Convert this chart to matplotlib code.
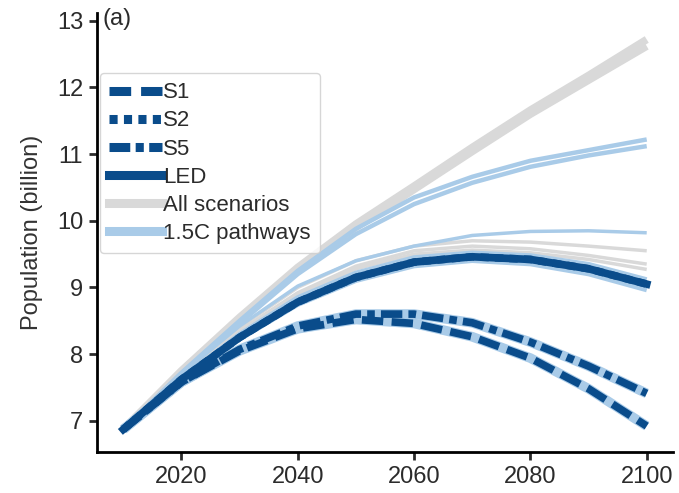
import matplotlib.pyplot as plt
from matplotlib.lines import Line2D

plt.rcParams['font.family'] = ['Liberation Sans', 'DejaVu Sans']

# population (billion), decadal
years = [2010, 2020, 2030, 2040, 2050, 2060, 2070, 2080, 2090, 2100]

led = [6.87, 7.62, 8.25, 8.78, 9.15, 9.38, 9.46, 9.42, 9.28, 9.05]
s1 = [6.87, 7.58, 8.05, 8.38, 8.52, 8.46, 8.26, 7.94, 7.48, 6.92]
s2 = [6.87, 7.62, 8.25, 8.78, 9.15, 9.38, 9.46, 9.42, 9.28, 9.05]
s5 = [6.87, 7.58, 8.07, 8.42, 8.6, 8.6, 8.47, 8.18, 7.82, 7.41]

# all scenarios (grey)
grey_ssp3a = [6.87, 7.75, 8.55, 9.3, 9.95, 10.52, 11.1, 11.66, 12.18, 12.72]
grey_ssp3b = [6.87, 7.73, 8.52, 9.26, 9.9, 10.47, 11.04, 11.6, 12.11, 12.62]
grey_mid1 = [6.87, 7.68, 8.4, 9.0, 9.4, 9.62, 9.7, 9.68, 9.62, 9.55]
grey_mid2 = [6.87, 7.66, 8.35, 8.92, 9.32, 9.55, 9.62, 9.58, 9.48, 9.35]
grey_mid3 = [6.87, 7.65, 8.32, 8.88, 9.28, 9.5, 9.56, 9.52, 9.42, 9.27]

# 1.5C pathways (light blue)
blue_hi1 = [6.87, 7.72, 8.5, 9.25, 9.88, 10.35, 10.66, 10.9, 11.06, 11.22]
blue_hi2 = [6.87, 7.7, 8.46, 9.2, 9.8, 10.25, 10.57, 10.81, 10.98, 11.12]
blue_mid = [6.87, 7.7, 8.42, 9.02, 9.4, 9.62, 9.78, 9.84, 9.85, 9.82]
blue_led1 = [6.87, 7.64, 8.3, 8.85, 9.22, 9.45, 9.52, 9.48, 9.35, 9.12]
blue_led2 = [6.87, 7.6, 8.22, 8.74, 9.1, 9.32, 9.4, 9.35, 9.2, 8.96]
blue_s1 = s1
blue_s5 = s5

dark = '#0a4c8b'
light = '#a9cbe8'
grey = '#d9d9d9'
txt = '#2b2b2b'

fig = plt.figure(figsize=(6.79, 4.93), dpi=100)
ax = fig.add_axes([0.143, 0.083, 0.848, 0.891])

for run in [grey_ssp3a, grey_ssp3b]:
    ax.plot(years, run, color=grey, lw=5.5, solid_capstyle='butt')
for run in [grey_mid1, grey_mid2, grey_mid3]:
    ax.plot(years, run, color=grey, lw=2.5, solid_capstyle='butt')

for run in [blue_hi1, blue_hi2]:
    ax.plot(years, run, color=light, lw=3.2, solid_capstyle='butt')
ax.plot(years, blue_mid, color=light, lw=2.5, solid_capstyle='butt')
for run in [blue_led1, blue_led2]:
    ax.plot(years, run, color=light, lw=3.2, solid_capstyle='butt')
for run in [blue_s1, blue_s5]:
    ax.plot(years, run, color=light, lw=7, solid_capstyle='butt')

ax.plot(years, s2, color=dark, lw=5.5, dashes=(1.1, 0.8))
ax.plot(years, led, color=dark, lw=5.5)
ax.plot(years, s1, color=dark, lw=5.5, dashes=(2.8, 1.1))
ax.plot(years, s5, color=dark, lw=5.5, dashes=(2.8, 0.8, 1.0, 0.8))

ax.set_xlim(2005.5, 2104.5)
ax.set_ylim(6.53, 13.12)
ax.set_xticks([2020, 2040, 2060, 2080, 2100])
ax.set_yticks([7, 8, 9, 10, 11, 12, 13])
for s in ['top', 'right']:
    ax.spines[s].set_visible(False)
for s in ['left', 'bottom']:
    ax.spines[s].set_linewidth(2)
ax.tick_params(width=2, length=6, labelsize=17, colors=txt, pad=4)
ax.set_ylabel('Population (billion)', fontsize=17, color='#333333', labelpad=10)

ax.text(0.01, 0.985, '(a)', transform=ax.transAxes, fontsize=17,
        va='center', ha='left', color=txt)

handles = [
    Line2D([], [], color=dark, lw=6.5, dashes=(2.4, 1.1)),
    Line2D([], [], color=dark, lw=6.5, dashes=(0.9, 0.7)),
    Line2D([], [], color=dark, lw=6.5, dashes=(2.3, 0.6, 0.9, 0.6)),
    Line2D([], [], color=dark, lw=6.5),
    Line2D([], [], color=grey, lw=6.5),
    Line2D([], [], color=light, lw=6.5),
]
labels = ['S1', 'S2', 'S5', 'LED', 'All scenarios', '1.5C pathways']
leg = ax.legend(handles, labels, loc='upper left', bbox_to_anchor=(0.005, 0.863),
                fontsize=16, handlelength=2.35, handletextpad=0.08,
                labelspacing=0.32, borderpad=0.42, borderaxespad=0.0,
                frameon=True, edgecolor='#cccccc', fancybox=True)
for t in leg.get_texts():
    t.set_color(txt)

fig.savefig('out.png', dpi=100)
